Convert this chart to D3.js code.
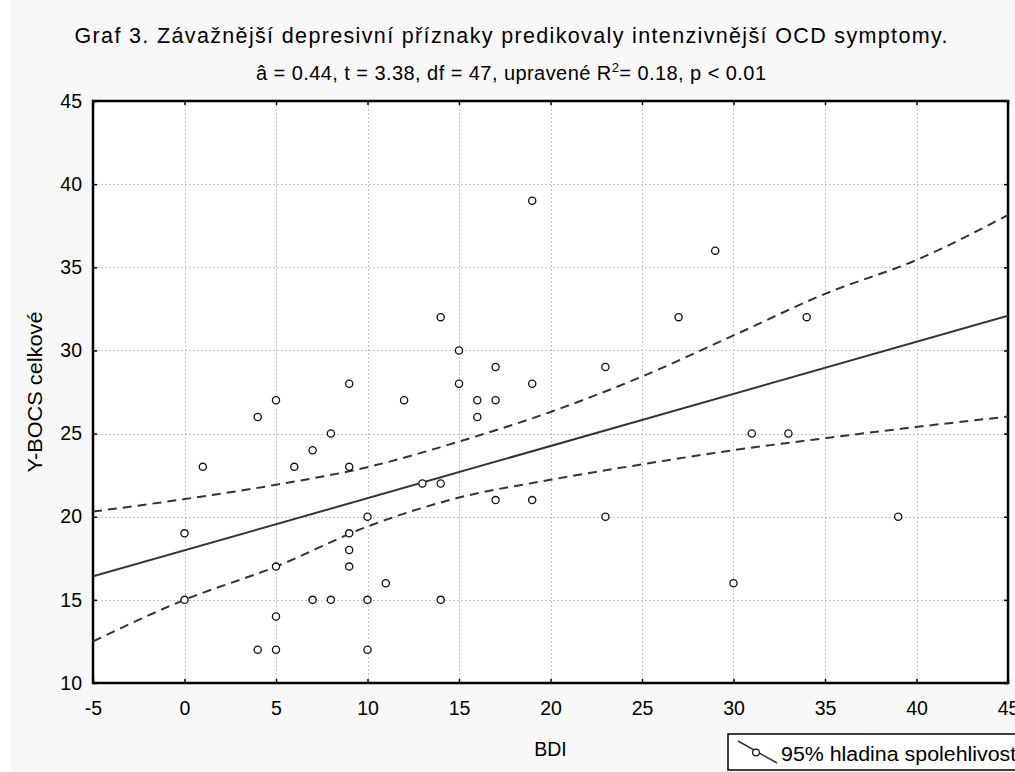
<!DOCTYPE html>
<html>
<head>
<meta charset="utf-8">
<script src="https://cdn.jsdelivr.net/npm/d3@7"></script>
<style>
  html, body { margin: 0; padding: 0; background: #ffffff; }
  svg { display: block; font-family: "Liberation Sans", Arial, sans-serif; }
</style>
</head>
<body>
<svg id="chart" width="1015" height="772"></svg>
<script>
// BDI score and Y-BOCS total score for each respondent
const bdi = [0, 0, 1, 4, 4, 5, 5, 5, 5, 6, 7, 7, 8, 8, 9, 9, 9, 9, 9, 10, 10, 10, 11, 12,
  13, 14, 14, 14, 15, 15, 16, 16, 17, 17, 17, 19, 19, 19, 23, 23, 27, 29, 30, 31, 33, 34, 39];
const ybocs = [19, 15, 23, 26, 12, 27, 17, 14, 12, 23, 24, 15, 25, 15, 28, 23, 19, 18, 17, 20, 15, 12, 16, 27,
  22, 32, 22, 15, 30, 28, 27, 26, 29, 27, 21, 39, 28, 21, 29, 20, 32, 36, 16, 25, 25, 32, 20];

// fitted regression line (end points)
const fitX = [-5, 45];
const fitY = [16.41, 32.09];

// 95% confidence band around the fit
const bandX = [-5, 0, 5, 10, 15, 20, 25, 30, 35, 40, 45];
const bandUpper = [20.31, 21.06, 21.92, 22.98, 24.52, 26.3, 28.43, 30.9, 33.4, 35.44, 38.14];
const bandLower = [12.5, 15.0, 17.0, 19.41, 21.15, 22.22, 23.15, 24.0, 24.72, 25.4, 26.02];

const xTicks = [-5, 0, 5, 10, 15, 20, 25, 30, 35, 40, 45];
const yTicks = [10, 15, 20, 25, 30, 35, 40, 45];

const titleText = "Graf 3. Závažnější depresivní příznaky predikovaly intenzivnější OCD symptomy.";
const xTitle = "BDI";
const yTitle = "Y-BOCS celkové";
const legendText = "95% hladina spolehlivosti";

const svg = d3.select("#chart");
const W = 1015, H = 772;
const m = { left: 93, right: 1008, top: 101, bottom: 683 };

// page background
svg.append("rect").attr("x", 0).attr("y", 0).attr("width", W).attr("height", H).attr("fill", "#ffffff");
svg.append("rect").attr("x", 10).attr("y", 0).attr("width", W - 10).attr("height", H).attr("fill", "#f8f8f8");

const x = d3.scaleLinear().domain([-5, 45]).range([m.left, m.right]);
const y = d3.scaleLinear().domain([10, 45]).range([m.bottom, m.top]);

// plot area
svg.append("rect")
  .attr("x", m.left).attr("y", m.top)
  .attr("width", m.right - m.left).attr("height", m.bottom - m.top)
  .attr("fill", "#ffffff");

svg.append("defs").append("clipPath").attr("id", "plotClip")
  .append("rect")
  .attr("x", m.left).attr("y", m.top)
  .attr("width", m.right - m.left).attr("height", m.bottom - m.top);

// grid
const grid = svg.append("g").attr("stroke", "#c4c4c4").attr("stroke-width", 1).attr("stroke-dasharray", "2,2");
grid.selectAll("line.v").data(xTicks.slice(1, -1)).join("line")
  .attr("class", "v")
  .attr("x1", d => Math.round(x(d)) + 0.5).attr("x2", d => Math.round(x(d)) + 0.5)
  .attr("y1", m.top).attr("y2", m.bottom);
grid.selectAll("line.h").data(yTicks.slice(1, -1)).join("line")
  .attr("class", "h")
  .attr("x1", m.left).attr("x2", m.right)
  .attr("y1", d => Math.round(y(d)) + 0.5).attr("y2", d => Math.round(y(d)) + 0.5);

// axes with inward ticks
const tickLen = 4;
const axisFont = 19.5;
const plain = d => String(d);
const bottomAxis = d3.axisBottom(x).tickValues(xTicks).tickSize(-tickLen).tickPadding(18).tickFormat(plain);
const topAxis = d3.axisTop(x).tickValues(xTicks).tickSize(-tickLen).tickFormat("");
const leftAxis = d3.axisLeft(y).tickValues(yTicks).tickSize(-tickLen).tickPadding(11).tickFormat(plain);
const rightAxis = d3.axisRight(y).tickValues(yTicks).tickSize(-tickLen).tickFormat("");

function styleAxis(g) {
  g.select(".domain").remove();
  g.selectAll(".tick line").attr("stroke", "#000").attr("stroke-width", 1.5);
  g.selectAll(".tick text").attr("fill", "#000").attr("font-size", axisFont)
    .attr("font-family", "'Liberation Sans', Arial, sans-serif");
}
svg.append("g").attr("transform", `translate(0,${m.bottom})`).call(bottomAxis).call(styleAxis);
svg.append("g").attr("transform", `translate(0,${m.top})`).call(topAxis).call(styleAxis);
svg.append("g").attr("transform", `translate(${m.left},0)`).call(leftAxis).call(styleAxis);
svg.append("g").attr("transform", `translate(${m.right},0)`).call(rightAxis).call(styleAxis);

// frame
svg.append("rect")
  .attr("x", m.left).attr("y", m.top)
  .attr("width", m.right - m.left).attr("height", m.bottom - m.top)
  .attr("fill", "none").attr("stroke", "#000").attr("stroke-width", 2.5);

const plot = svg.append("g").attr("clip-path", "url(#plotClip)");

// confidence band
const bandLine = d3.line().x(d => x(d[0])).y(d => y(d[1])).curve(d3.curveMonotoneX);
[bandUpper, bandLower].forEach(vals => {
  plot.append("path")
    .datum(bandX.map((bx, i) => [bx, vals[i]]))
    .attr("d", bandLine)
    .attr("fill", "none").attr("stroke", "#333").attr("stroke-width", 2)
    .attr("stroke-dasharray", "9,6");
});

// regression line
plot.append("path")
  .datum(fitX.map((fx, i) => [fx, fitY[i]]))
  .attr("d", d3.line().x(d => x(d[0])).y(d => y(d[1])))
  .attr("fill", "none").attr("stroke", "#333").attr("stroke-width", 2);

// observations
plot.selectAll("circle.pt").data(bdi.map((b, i) => [b, ybocs[i]])).join("circle")
  .attr("class", "pt")
  .attr("cx", d => x(d[0])).attr("cy", d => y(d[1]))
  .attr("r", 3.6)
  .attr("fill", "#fff").attr("stroke", "#111").attr("stroke-width", 1.3);

// titles
svg.append("text").attr("x", 511).attr("y", 43).attr("text-anchor", "middle")
  .attr("font-size", 21.5).attr("fill", "#000")
  .attr("textLength", 873).attr("lengthAdjust", "spacing")
  .text(titleText);

const sub = svg.append("text").attr("x", 511).attr("y", 80).attr("text-anchor", "middle")
  .attr("font-size", 20).attr("fill", "#000")
  .attr("textLength", 510).attr("lengthAdjust", "spacing");
sub.append("tspan").text("â = 0.44, t = 3.38, df = 47, upravené R");
sub.append("tspan").attr("font-size", 13).attr("dy", -8).text("2");
sub.append("tspan").attr("dy", 8).text("= 0.18, p < 0.01");

svg.append("text").attr("x", (m.left + m.right) / 2).attr("y", 756).attr("text-anchor", "middle")
  .attr("font-size", 19.5).attr("fill", "#000").text(xTitle);

svg.append("text")
  .attr("transform", `translate(42,${(m.top + m.bottom) / 2}) rotate(-90)`)
  .attr("text-anchor", "middle")
  .attr("font-size", 20.5).attr("fill", "#000")
  .attr("textLength", 161).attr("lengthAdjust", "spacingAndGlyphs")
  .text(yTitle);

// legend
const lg = svg.append("g");
lg.append("rect").attr("x", 728).attr("y", 734).attr("width", 320).attr("height", 36)
  .attr("fill", "#fff").attr("stroke", "#000").attr("stroke-width", 1.5);
lg.append("line").attr("x1", 738).attr("y1", 741).attr("x2", 777).attr("y2", 763)
  .attr("stroke", "#333").attr("stroke-width", 1.5);
lg.append("circle").attr("cx", 756).attr("cy", 752.5).attr("r", 3.4)
  .attr("fill", "#fff").attr("stroke", "#111").attr("stroke-width", 1.2);
lg.append("text").attr("x", 781).attr("y", 761).attr("font-size", 19.5).attr("fill", "#000")
  .attr("textLength", 240).attr("lengthAdjust", "spacingAndGlyphs")
  .text(legendText);
</script>
</body>
</html>
